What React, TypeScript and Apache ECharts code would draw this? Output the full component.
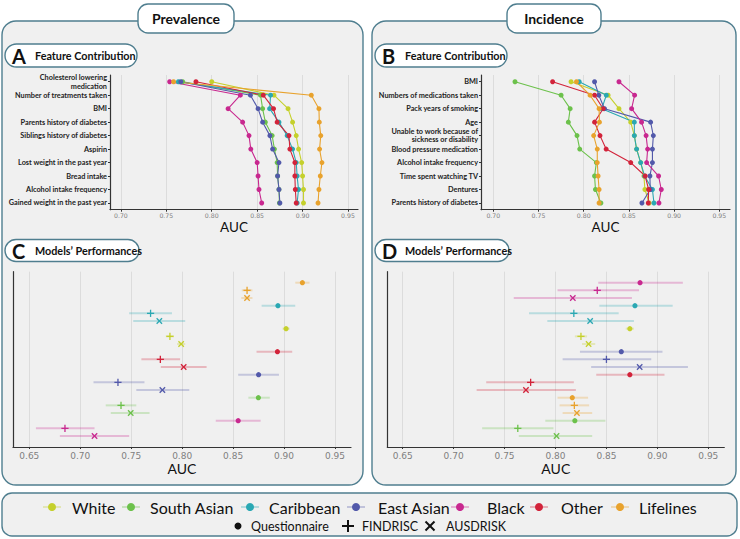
import React, { useEffect, useRef } from "react";
import * as echarts from "echarts";

const ethnicities = ["White", "South Asian", "Caribbean", "East Asian", "Black", "Other", "Lifelines"];
const ethColors = ["#c5d02c", "#6cc14b", "#2aa8b3", "#5259aa", "#c8288f", "#d2233a", "#e8a22d"];
const methods = ["Questionnaire", "FINDRISC", "AUSDRISK"];

const ticksAB = [0.7, 0.75, 0.8, 0.85, 0.9, 0.95];
const ticksCD = [0.65, 0.7, 0.75, 0.8, 0.85, 0.9, 0.95];

// Panel A: Prevalence feature contribution
const featA = [
  "Cholesterol lowering\nmedication",
  "Number of treatments taken",
  "BMI",
  "Parents history of diabetes",
  "Siblings history of diabetes",
  "Aspirin",
  "Lost weight in the past year",
  "Bread intake",
  "Alcohol intake frequency",
  "Gained weight in the past year",
];
const aWhite = [0.8, 0.8685, 0.884, 0.889, 0.893, 0.8956, 0.899, 0.9, 0.901, 0.901];
const aSouthAsian = [0.768, 0.8537, 0.856, 0.859, 0.8665, 0.869, 0.872, 0.8725, 0.874, 0.8745];
const aCaribbean = [0.7633, 0.8648, 0.8637, 0.874, 0.883, 0.889, 0.893, 0.894, 0.8955, 0.894];
const aEastAsian = [0.766, 0.8426, 0.851, 0.856, 0.864, 0.867, 0.874, 0.8725, 0.874, 0.875];
const aBlack = [0.7537, 0.8315, 0.818, 0.834, 0.841, 0.843, 0.85, 0.851, 0.852, 0.855];
const aOther = [0.7826, 0.8567, 0.868, 0.872, 0.885, 0.886, 0.8915, 0.8915, 0.892, 0.893];
const aLifelines = [0.758, 0.9096, 0.918, 0.9184, 0.92, 0.9187, 0.9213, 0.9195, 0.918, 0.917];

// Panel B: Incidence feature contribution
const featB = [
  "BMI",
  "Numbers of medications taken",
  "Pack years of smoking",
  "Age",
  "Unable to work because of\nsickness or disability",
  "Blood pressure medication",
  "Alcohol intake frequency",
  "Time spent watching TV",
  "Dentures",
  "Parents history of diabetes",
];
const bWhite = [0.786, 0.827, 0.839, 0.852, 0.856, 0.8585, 0.863, 0.8666, 0.8677, 0.8725];
const bSouthAsian = [0.724, 0.775, 0.785, 0.783, 0.7926, 0.7956, 0.814, 0.812, 0.813, 0.819];
const bCaribbean = [0.795, 0.825, 0.82, 0.856, 0.856, 0.8585, 0.863, 0.8673, 0.876, 0.8777];
const bEastAsian = [0.812, 0.8167, 0.823, 0.874, 0.877, 0.876, 0.876, 0.8732, 0.8736, 0.8644];
const bBlack = [0.839, 0.8563, 0.853, 0.864, 0.869, 0.8707, 0.8696, 0.8828, 0.8858, 0.8832];
const bOther = [0.7656, 0.812, 0.8215, 0.812, 0.818, 0.8248, 0.852, 0.868, 0.8718, 0.8714];
const bLifelines = [0.792, 0.807, 0.817, 0.8174, 0.811, 0.815, 0.815, 0.8159, 0.817, 0.817];

// Panel C: Prevalence model performances (top to bottom)
const cGroups = ["Lifelines", "Caribbean", "White", "Other", "East Asian", "South Asian", "Black"];
const cQ = [0.918, 0.894, 0.902, 0.8935, 0.875, 0.8748, 0.855];
const cQlo = [0.911, 0.878, 0.8985, 0.873, 0.855, 0.865, 0.833];
const cQhi = [0.925, 0.911, 0.9055, 0.908, 0.895, 0.886, 0.877];
const cF = [0.8637, 0.769, 0.788, 0.7786, 0.737, 0.74, 0.685];
const cFlo = [0.8585, 0.748, 0.784, 0.76, 0.713, 0.725, 0.6565];
const cFhi = [0.869, 0.79, 0.792, 0.798, 0.763, 0.755, 0.714];
const cA = [0.8637, 0.7776, 0.799, 0.8015, 0.7806, 0.7495, 0.714];
const cAlo = [0.858, 0.752, 0.795, 0.779, 0.755, 0.73, 0.68];
const cAhi = [0.869, 0.803, 0.803, 0.824, 0.807, 0.768, 0.748];

// Panel D: Incidence model performances (top to bottom)
const dGroups = ["Black", "Caribbean", "White", "East Asian", "Other", "Lifelines", "South Asian"];
const dQ = [0.883, 0.878, 0.873, 0.8646, 0.873, 0.8165, 0.819];
const dQlo = [0.842, 0.843, 0.869, 0.824, 0.84, 0.802, 0.79];
const dQhi = [0.925, 0.915, 0.877, 0.905, 0.907, 0.832, 0.849];
const dF = [0.841, 0.818, 0.825, 0.85, 0.7756, 0.8185, 0.763];
const dFlo = [0.802, 0.774, 0.819, 0.807, 0.732, 0.804, 0.728];
const dFhi = [0.882, 0.862, 0.831, 0.894, 0.818, 0.833, 0.798];
const dA = [0.817, 0.834, 0.8325, 0.8826, 0.771, 0.821, 0.801];
const dAlo = [0.759, 0.792, 0.826, 0.835, 0.7226, 0.807, 0.764];
const dAhi = [0.875, 0.877, 0.839, 0.93, 0.82, 0.836, 0.836];

const BORDER = "#4f7e8f";
const PANEL_BG = "#f0f0f0";
const FONT = "Lato, 'Open Sans', sans-serif";

function makeRender(color: string) {
  return (params: any, api: any) => {
    const row = api.value(3);
    const lo = api.coord([api.value(0), row]);
    const hi = api.coord([api.value(1), row]);
    const p = api.coord([api.value(2), row]);
    const m = api.value(4);
    const children: any[] = [
      {
        type: "line",
        shape: { x1: lo[0], y1: lo[1], x2: hi[0], y2: hi[1] },
        style: { stroke: color, lineWidth: 2, opacity: 0.28 },
      },
    ];
    if (m === 0) {
      children.push({ type: "circle", shape: { cx: p[0], cy: p[1], r: 2.6 }, style: { fill: color } });
    } else if (m === 1) {
      const s = 3.6;
      children.push({ type: "line", shape: { x1: p[0] - s, y1: p[1], x2: p[0] + s, y2: p[1] }, style: { stroke: color, lineWidth: 1.3 } });
      children.push({ type: "line", shape: { x1: p[0], y1: p[1] - s, x2: p[0], y2: p[1] + s }, style: { stroke: color, lineWidth: 1.3 } });
    } else {
      const s = 2.7;
      children.push({ type: "line", shape: { x1: p[0] - s, y1: p[1] - s, x2: p[0] + s, y2: p[1] + s }, style: { stroke: color, lineWidth: 1.3 } });
      children.push({ type: "line", shape: { x1: p[0] - s, y1: p[1] + s, x2: p[0] + s, y2: p[1] - s }, style: { stroke: color, lineWidth: 1.3 } });
    }
    return { type: "group", children };
  };
}

function valueXAxis(gridIndex: number, min: number, max: number, ticks: number[], small: boolean) {
  return {
    type: "value",
    gridIndex,
    min,
    max,
    axisLine: { show: true, onZero: false, lineStyle: { color: "#333", width: 1.2 } },
    axisTick: { show: true, length: 2, customValues: ticks, lineStyle: { color: "#333" } },
    axisLabel: {
      customValues: ticks,
      formatter: (v: number) => v.toFixed(2),
      fontSize: small ? 6.2 : 9,
      color: "#808080",
      fontFamily: "DejaVu Sans",
      margin: small ? 3 : 4,
    },
    splitLine: { show: true, lineStyle: { color: "#dcdcdc", width: 1 } },
    name: "AUC",
    nameLocation: "middle",
    nameGap: small ? 10 : 14,
    nameTextStyle: { fontSize: small ? 13.5 : 14, fontFamily: FONT, color: "#111" },
  };
}

function catYAxis(gridIndex: number, data: string[]) {
  return {
    type: "category",
    gridIndex,
    data,
    inverse: true,
    boundaryGap: true,
    axisLine: { show: true, onZero: false, lineStyle: { color: "#333", width: 1.2 } },
    axisTick: { show: true, length: 2, alignWithLabel: true, lineStyle: { color: "#333" } },
    axisLabel: {
      fontSize: 7.3,
      fontWeight: "bold",
      fontFamily: FONT,
      color: "#222",
      margin: 3,
      lineHeight: 8.6,
      interval: 0,
    },
    splitLine: { show: false },
  };
}

function rowYAxis(gridIndex: number) {
  return {
    type: "value",
    gridIndex,
    min: -1.43,
    max: 21.43,
    inverse: true,
    axisLine: { show: true, onZero: false, lineStyle: { color: "#333", width: 1.2 } },
    axisTick: { show: false },
    axisLabel: { show: false },
    splitLine: { show: false },
  };
}

function rect(x: number, y: number, w: number, h: number, r: number, fill: string, z: number) {
  return { type: "rect", z, silent: true, shape: { x, y, width: w, height: h, r }, style: { fill, stroke: BORDER, lineWidth: 1.4 } };
}

function text(x: number, y: number, t: string, size: number, weight: string, align: string, color = "#111", z = 10) {
  return {
    type: "text",
    z,
    silent: true,
    x,
    y,
    style: {
      text: t,
      fontSize: size,
      fontWeight: weight,
      fontFamily: FONT,
      fill: color,
      align,
      verticalAlign: "middle",
    },
  };
}

function header(x: number, y: number, w: number, h: number, letter: string, title: string) {
  return [
    rect(x, y, w, h, h / 2, "#ffffff", 6),
    text(x + 7, y + h / 2 + 0.5, letter, 20, "bold", "left", "#111", 7),
    text(x + 30, y + h / 2, title, 10.8, "bold", "left", "#111", 7),
  ];
}

function buildOption() {
  const aData = [aWhite, aSouthAsian, aCaribbean, aEastAsian, aBlack, aOther, aLifelines];
  const bData = [bWhite, bSouthAsian, bCaribbean, bEastAsian, bBlack, bOther, bLifelines];
  const series: any[] = [];

  aData.forEach((vals, i) => {
    series.push({
      type: "line",
      name: ethnicities[i],
      xAxisIndex: 0,
      yAxisIndex: 0,
      data: vals.map((v, k) => [v, k]),
      symbol: "circle",
      symbolSize: 5,
      showSymbol: true,
      clip: false,
      lineStyle: { width: 1.1, color: ethColors[i] },
      itemStyle: { color: ethColors[i] },
      silent: true,
    });
  });
  bData.forEach((vals, i) => {
    series.push({
      type: "line",
      name: ethnicities[i],
      xAxisIndex: 1,
      yAxisIndex: 1,
      data: vals.map((v, k) => [v, k]),
      symbol: "circle",
      symbolSize: 5,
      showSymbol: true,
      clip: false,
      lineStyle: { width: 1.1, color: ethColors[i] },
      itemStyle: { color: ethColors[i] },
      silent: true,
    });
  });

  const perf = (
    axis: number,
    groups: string[],
    q: number[], qlo: number[], qhi: number[],
    f: number[], flo: number[], fhi: number[],
    a: number[], alo: number[], ahi: number[]
  ) => {
    groups.forEach((g, gi) => {
      const color = ethColors[ethnicities.indexOf(g)];
      series.push({
        type: "custom",
        name: g,
        xAxisIndex: axis,
        yAxisIndex: axis,
        renderItem: makeRender(color),
        silent: true,
        clip: false,
        data: [
          [qlo[gi], qhi[gi], q[gi], gi * 3, 0],
          [flo[gi], fhi[gi], f[gi], gi * 3 + 1, 1],
          [alo[gi], ahi[gi], a[gi], gi * 3 + 2, 2],
        ],
      });
    });
  };
  perf(2, cGroups, cQ, cQlo, cQhi, cF, cFlo, cFhi, cA, cAlo, cAhi);
  perf(3, dGroups, dQ, dQlo, dQhi, dF, dFlo, dFhi, dA, dAlo, dAhi);

  const graphics: any[] = [
    rect(2, 21, 361, 464, 14, PANEL_BG, -10),
    rect(372, 21, 364, 464, 14, PANEL_BG, -10),
    rect(138, 4, 96, 29, 10, "#ffffff", 5),
    text(186, 18.5, "Prevalence", 14, "bold", "center", "#111", 6),
    rect(507, 4, 94, 29, 10, "#ffffff", 5),
    text(554, 18.5, "Incidence", 14, "bold", "center", "#111", 6),
    ...header(5, 44, 132, 23, "A", "Feature Contribution"),
    ...header(375, 44, 132, 23, "B", "Feature Contribution"),
    ...header(5, 239.5, 134, 22, "C", "Models’ Performances"),
    ...header(375, 239.5, 134, 22, "D", "Models’ Performances"),
    rect(2, 493, 735, 43, 10, PANEL_BG, -10),
  ];

  // Legend row 1: ethnicities
  const iconX = [52, 131, 250, 356, 460, 539, 620];
  const textX = [72, 150, 269, 378, 487, 561, 639];
  const ly = 507;
  ethnicities.forEach((e, i) => {
    const c = ethColors[i];
    graphics.push({ type: "line", z: 5, silent: true, shape: { x1: iconX[i] - 9, y1: ly, x2: iconX[i] + 9, y2: ly }, style: { stroke: c, lineWidth: 2, opacity: 0.3 } });
    graphics.push({ type: "circle", z: 6, silent: true, shape: { cx: iconX[i], cy: ly, r: 4 }, style: { fill: c } });
    graphics.push(text(textX[i], ly, e, 16, "normal", "left", "#111", 6));
  });

  // Legend row 2: methods
  const ly2 = 526;
  const mIcon = [238, 348, 430];
  const mText = [251, 362, 446];
  graphics.push({ type: "circle", z: 6, silent: true, shape: { cx: mIcon[0], cy: ly2, r: 3.5 }, style: { fill: "#111" } });
  graphics.push({ type: "line", z: 6, silent: true, shape: { x1: mIcon[1] - 6, y1: ly2, x2: mIcon[1] + 6, y2: ly2 }, style: { stroke: "#111", lineWidth: 2 } });
  graphics.push({ type: "line", z: 6, silent: true, shape: { x1: mIcon[1], y1: ly2 - 6, x2: mIcon[1], y2: ly2 + 6 }, style: { stroke: "#111", lineWidth: 2 } });
  graphics.push({ type: "line", z: 6, silent: true, shape: { x1: mIcon[2] - 4.5, y1: ly2 - 4.5, x2: mIcon[2] + 4.5, y2: ly2 + 4.5 }, style: { stroke: "#111", lineWidth: 2 } });
  graphics.push({ type: "line", z: 6, silent: true, shape: { x1: mIcon[2] - 4.5, y1: ly2 + 4.5, x2: mIcon[2] + 4.5, y2: ly2 - 4.5 }, style: { stroke: "#111", lineWidth: 2 } });
  methods.forEach((m, i) => graphics.push(text(mText[i], ly2, m, 12.5, "normal", "left", "#111", 6)));

  return {
    animation: false,
    backgroundColor: "#ffffff",
    textStyle: { fontFamily: FONT },
    grid: [
      { left: 110, top: 75, width: 248, height: 134.7, containLabel: false },
      { left: 481, top: 75, width: 249, height: 134.7, containLabel: false },
      { left: 13, top: 271.7, width: 338, height: 175.3, containLabel: false },
      { left: 387.3, top: 271.7, width: 337, height: 175.3, containLabel: false },
    ],
    xAxis: [
      valueXAxis(0, 0.688, 0.961, ticksAB, true),
      valueXAxis(1, 0.6864, 0.9618, ticksAB, true),
      valueXAxis(2, 0.634, 0.9657, ticksCD, false),
      valueXAxis(3, 0.6349, 0.9657, ticksCD, false),
    ],
    yAxis: [catYAxis(0, featA), catYAxis(1, featB), rowYAxis(2), rowYAxis(3)],
    series,
    graphic: { elements: graphics },
  };
}

export default function App() {
  const ref = useRef<HTMLDivElement>(null);
  useEffect(() => {
    const chart = echarts.init(ref.current!, null, { renderer: "svg", width: 740, height: 539 });
    chart.setOption(buildOption() as any);
    return () => chart.dispose();
  }, []);
  return (
    <div
      ref={ref}
      style={{ position: "absolute", left: 0, top: 0, width: 740, height: 539, background: "#fff" }}
    />
  );
}
